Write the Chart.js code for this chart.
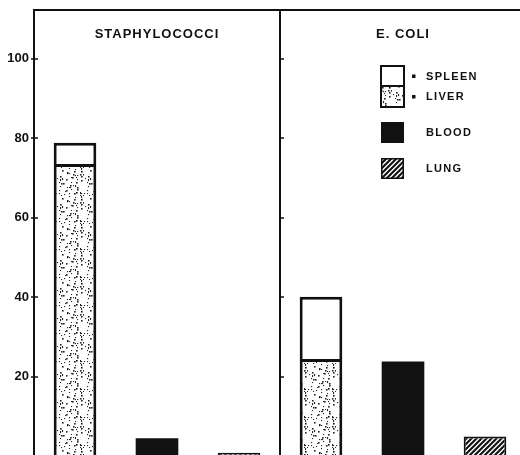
<!DOCTYPE html>
<html>
<head>
<meta charset="utf-8">
<script src="https://cdn.jsdelivr.net/npm/chart.js@4.4.1/dist/chart.umd.min.js"></script>
<style>
  html, body { margin: 0; padding: 0; background: #fff; }
  #wrap { position: relative; width: 520px; height: 455px; overflow: hidden; }
  #chart { position: absolute; left: 0; top: 0; }
</style>
</head>
<body>
<div id="wrap"><canvas id="chart" width="540" height="458"></canvas></div>
<script>
// panels and bars (per cent)
const panels = ['STAPHYLOCOCCI', 'E. COLI'];
const categories = ['Liver + spleen', 'Blood', 'Lung', 'Liver + spleen', 'Blood', 'Lung'];
const liverValues = [73.5, null, null, 24.4, null, null];
const spleenValues = [5.4, null, null, 15.7, null, null];
const bloodValues = [null, 4.5, null, null, 23.8, null];
const lungValues = [null, null, 0.8, null, null, 4.9];
const yTicks = [20, 40, 60, 80, 100];
const legendItems = ['SPLEEN', 'LIVER', 'BLOOD', 'LUNG'];

const INK = '#111';

function makeStipple() {
  const tile = document.createElement('canvas');
  tile.width = 28;
  tile.height = 28;
  const c = tile.getContext('2d');
  c.fillStyle = '#fff';
  c.fillRect(0, 0, 28, 28);
  c.fillStyle = 'rgba(0,0,0,0.85)';
  let seed = 7;
  const next = () => {
    seed = (seed * 16807) % 2147483647;
    return seed / 2147483647;
  };
  for (let i = 0; i < 62; i++) {
    const s = next() < 0.35 ? 1.6 : 1.1;
    c.fillRect(Math.floor(next() * 28), Math.floor(next() * 28), s, s);
  }
  return c.createPattern(tile, 'repeat');
}

function makeHatch() {
  const tile = document.createElement('canvas');
  tile.width = 5;
  tile.height = 5;
  const c = tile.getContext('2d');
  c.fillStyle = '#fff';
  c.fillRect(0, 0, 5, 5);
  c.strokeStyle = INK;
  c.lineWidth = 2.1;
  c.beginPath();
  c.moveTo(-1, 1); c.lineTo(1, -1);
  c.moveTo(0, 5); c.lineTo(5, 0);
  c.moveTo(4, 6); c.lineTo(6, 4);
  c.stroke();
  return c.createPattern(tile, 'repeat');
}

const stipple = makeStipple();
const hatch = makeHatch();

const framePlugin = {
  id: 'frame',
  afterDraw(chart) {
    const { ctx, chartArea: a, scales: { x, y } } = chart;
    const mid = Math.round((a.left + a.right) / 2);
    ctx.save();
    ctx.strokeStyle = INK;
    ctx.lineWidth = 2;
    ctx.beginPath();
    ctx.moveTo(a.left, a.bottom + 6);
    ctx.lineTo(a.left, a.top);
    ctx.lineTo(a.right, a.top);
    ctx.lineTo(a.right, a.bottom + 6);
    ctx.moveTo(mid, a.top);
    ctx.lineTo(mid, a.bottom + 6);
    ctx.stroke();

    ctx.lineWidth = 1.5;
    ctx.beginPath();
    yTicks.forEach(v => {
      const py = Math.round(y.getPixelForValue(v));
      ctx.moveTo(a.left - 3, py);
      ctx.lineTo(a.left + 4, py);
      ctx.moveTo(mid, py);
      ctx.lineTo(mid + 4, py);
    });
    ctx.stroke();

    // panel titles
    ctx.fillStyle = INK;
    ctx.font = 'bold 13px "Liberation Sans", Arial, sans-serif';
    ctx.letterSpacing = '1px';
    ctx.textAlign = 'center';
    ctx.textBaseline = 'middle';
    panels.forEach((p, i) => {
      ctx.fillText(p, x.getPixelForValue(i * 3 + 1), a.top + 24);
    });

    // legend in the E. coli panel
    const sx = mid + 101;
    const sw = 23;
    ctx.lineWidth = 2;
    ctx.fillStyle = '#fff';
    ctx.fillRect(sx, 66, sw, 20);
    ctx.fillStyle = stipple;
    ctx.fillRect(sx, 86, sw, 21);
    ctx.strokeStyle = INK;
    ctx.strokeRect(sx, 66, sw, 41);
    ctx.beginPath();
    ctx.moveTo(sx, 86);
    ctx.lineTo(sx + sw, 86);
    ctx.stroke();

    ctx.fillStyle = INK;
    ctx.fillRect(sx, 122, sw, 21);
    ctx.fillStyle = hatch;
    ctx.fillRect(sx, 158, sw, 21);
    ctx.strokeStyle = INK;
    ctx.lineWidth = 1.5;
    ctx.strokeRect(sx + 0.75, 158.75, sw - 1.5, 19.5);

    ctx.fillStyle = INK;
    ctx.fillRect(sx + 31, 74.5, 3.5, 3.5);
    ctx.fillRect(sx + 31, 95, 3.5, 3.5);
    ctx.font = 'bold 11px "Liberation Sans", Arial, sans-serif';
    ctx.letterSpacing = '1.3px';
    ctx.textAlign = 'left';
    const rows = [76.5, 97, 132.5, 169];
    legendItems.forEach((t, i) => ctx.fillText(t, sx + 45, rows[i]));
    ctx.restore();
  }
};

const barBase = {
  stack: 'organs',
  barPercentage: 0.52,
  categoryPercentage: 1,
  borderColor: INK,
  borderSkipped: 'start'
};

new Chart(document.getElementById('chart'), {
  type: 'bar',
  data: {
    labels: categories,
    datasets: [
      { ...barBase, label: 'LIVER', data: liverValues, backgroundColor: stipple, borderWidth: 3 },
      { ...barBase, label: 'SPLEEN', data: spleenValues, backgroundColor: '#fff', borderWidth: 3 },
      { ...barBase, label: 'BLOOD', data: bloodValues, backgroundColor: INK, borderWidth: 0 },
      { ...barBase, label: 'LUNG', data: lungValues, backgroundColor: hatch, borderWidth: 2 }
    ]
  },
  options: {
    responsive: false,
    animation: false,
    layout: { padding: { top: 10, right: 14, bottom: 2, left: 0 } },
    plugins: { legend: { display: false }, tooltip: { enabled: false } },
    scales: {
      x: { stacked: true, display: false },
      y: {
        stacked: true,
        min: 0,
        max: 112.3,
        afterBuildTicks: scale => {
          scale.ticks = yTicks.map(v => ({ value: v }));
        },
        afterFit: scale => {
          scale.width = 34;
          scale.paddingTop = 0;
          scale.paddingBottom = 0;
        },
        border: { display: false },
        grid: { drawOnChartArea: false, drawTicks: false },
        ticks: {
          padding: 5,
          color: INK,
          font: { family: '"Liberation Sans", Arial, sans-serif', weight: 'bold', size: 13 }
        }
      }
    }
  },
  plugins: [framePlugin]
});
</script>
</body>
</html>
